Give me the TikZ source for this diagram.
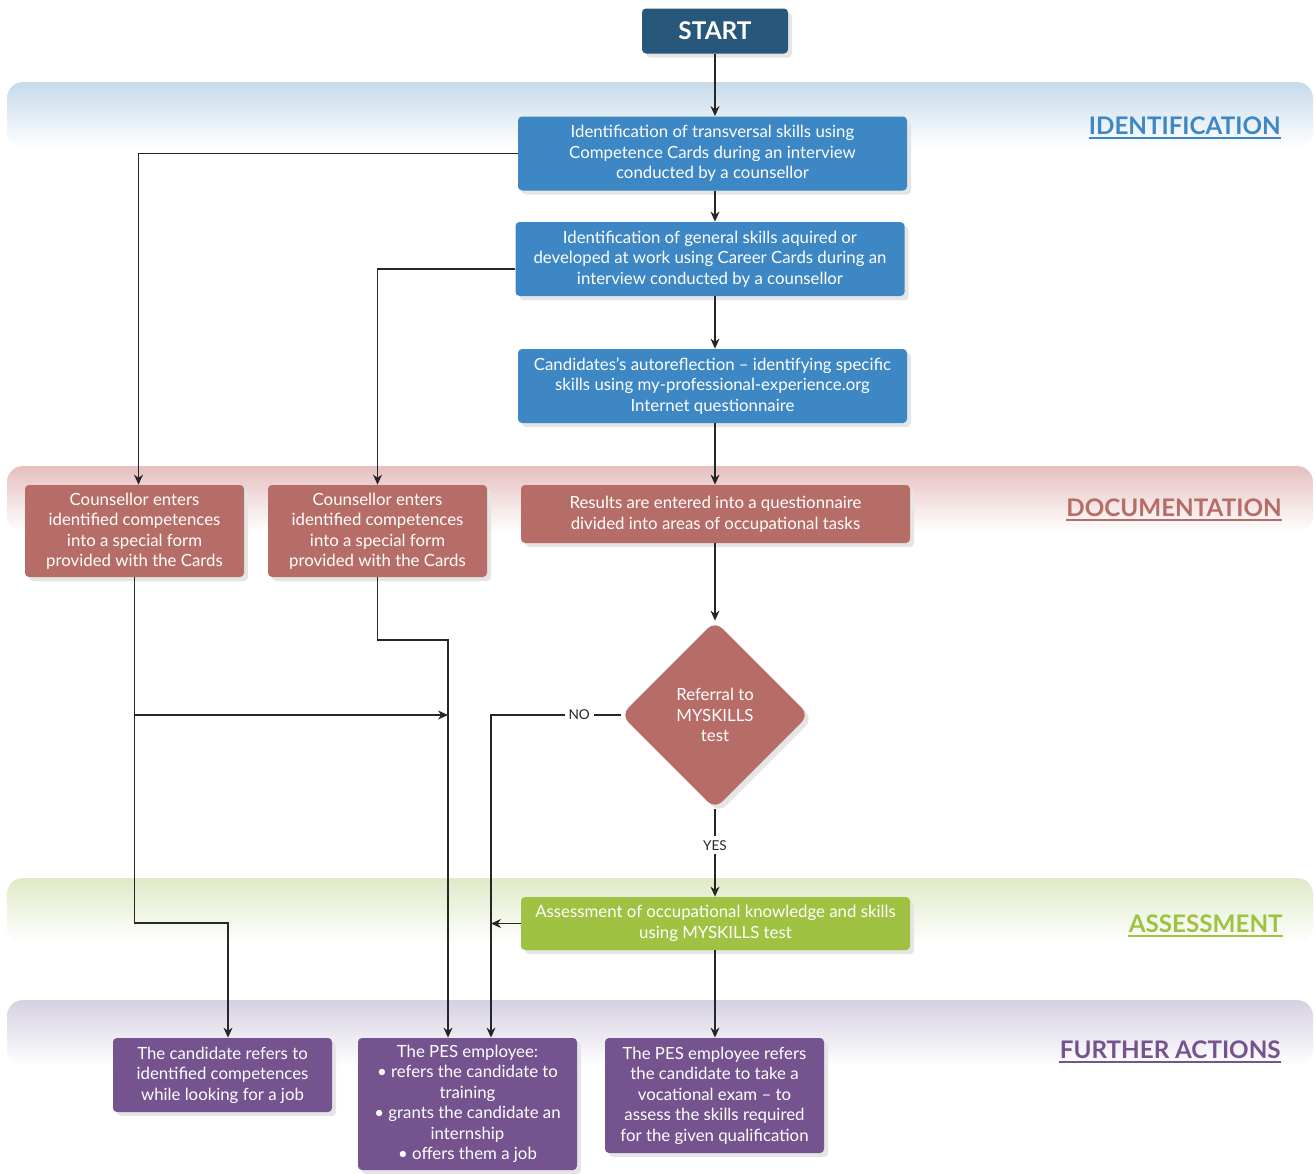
\documentclass[tikz,border=0pt]{standalone}
\usepackage{fontspec}
\setmainfont{Lato}
\usetikzlibrary{shapes.geometric,arrows.meta,shadows}

\definecolor{startblue}{HTML}{27577A}
\definecolor{identblue}{HTML}{3D87C4}
\definecolor{docred}{HTML}{B76D67}
\definecolor{assessgreen}{HTML}{A0C243}
\definecolor{furtherviolet}{HTML}{74538E}
\definecolor{identband}{HTML}{C6DAEB}
\definecolor{docband}{HTML}{E6BFBF}
\definecolor{assessband}{HTML}{DFEAC8}
\definecolor{furtherband}{HTML}{D6D0E2}

\tikzset{
  box/.style={rectangle, rounded corners=2pt, text=white, align=center, inner sep=0pt,
    font=\fontsize{8.4}{10.25}\selectfont,
    drop shadow={shadow xshift=2pt, shadow yshift=-2pt, fill=black!10, opacity=1}},
  widebox/.style={box, minimum width=194.5pt},
  smallbox/.style={box, minimum width=109.5pt},
  identbox/.style={widebox, fill=identblue, minimum height=37pt},
  docbox/.style={fill=docred},
  flow/.style={-{Stealth[length=5pt,width=4.5pt]}, line width=0.65pt, black!85},
  lbl/.style={fill=white, inner sep=2pt, font=\fontsize{6.8}{7}\selectfont, text=black!85},
  section/.style={anchor=base east, inner sep=0pt, font=\bfseries\fontsize{12.1}{13}\selectfont}
}

\begin{document}
\begin{tikzpicture}[x=0.5pt, y=-0.5pt]
\useasboundingbox (0,0) rectangle (1316,1173);

\foreach \col/\y in {identband/82, docband/466, assessband/878, furtherband/1000}
  \shade[top color=\col, bottom color=white, rounded corners=8pt] (7,\y) rectangle (1313,\y+66);

\node[section, text=identblue] (lident) at (1281,134) {IDENTIFICATION};
\node[section, text=docred] (ldoc) at (1282,516) {DOCUMENTATION};
\node[section, text=assessgreen] (lassess) at (1283,932) {ASSESSMENT};
\node[section, text=furtherviolet] (lfurther) at (1281,1058) {FURTHER ACTIONS};
\foreach \lab/\col in {lident/identblue, ldoc/docred, lassess/assessgreen, lfurther/furtherviolet}
  \draw[\col, line width=1pt] ([yshift=-2pt]\lab.base west) -- ([yshift=-2pt]\lab.base east);

\node[box, fill=startblue, minimum width=73pt, minimum height=22.5pt,
  font=\bfseries\fontsize{12.2}{13}\selectfont] (start) at (715,31) {START};

\node[identbox] (id1) at (712.5,153.5) {Identification of transversal skills using\\Competence Cards during an interview\\conducted by a counsellor};
\node[identbox] (id2) at (710,259) {Identification of general skills aquired or\\developed at work using Career Cards during an\\interview conducted by a counsellor};
\node[identbox] (id3) at (712.5,386) {Candidates's autoreflection -- identifying specific\\skills using my-professional-experience.org\\Internet questionnaire};

\node[smallbox, docbox, minimum height=46pt] (doc1) at (134.5,531) {Counsellor enters\\identified competences\\into a special form\\provided with the Cards};
\node[smallbox, docbox, minimum height=46pt] (doc2) at (377.5,531) {Counsellor enters\\identified competences\\into a special form\\provided with the Cards};
\node[widebox, docbox, minimum height=29pt] (doc3) at (715.5,514) {Results are entered into a questionnaire\\divided into areas of occupational tasks};

\node[box, diamond, docbox, aspect=1, minimum width=94pt, minimum height=94pt, rounded corners=5pt] (dia) at (715,715) {Referral to\\MYSKILLS\\test};

\node[widebox, fill=assessgreen, minimum height=26.5pt] (assess) at (715.5,923.5) {Assessment of occupational knowledge and skills\\using MYSKILLS test};

\node[smallbox, fill=furtherviolet, minimum height=37pt] (fa1) at (222.5,1075) {The candidate refers to\\identified competences\\while looking for a job};
\node[smallbox, fill=furtherviolet, minimum height=66pt] (fa2) at (467.5,1104) {The PES employee:\\• refers the candidate to\\training\\• grants the candidate an\\internship\\• offers them a job};
\node[smallbox, fill=furtherviolet, minimum height=57.5pt] (fa3) at (714.5,1095.5) {The PES employee refers\\the candidate to take a\\vocational exam -- to\\assess the skills required\\for the given qualification};

\coordinate (knee1) at (228,923);
\coordinate (bend2) at (448,640);
\coordinate (nobend) at (491,715);

\draw[flow] (start) -- (start |- id1.north);
\draw[flow] (start |- id1.south) -- (start |- id2.north);
\draw[flow] (start |- id2.south) -- (start |- id3.north);
\draw[flow] (start |- id3.south) -- (start |- doc3.north);
\draw[flow] (id1.west) -| ([xshift=2pt]doc1.north);
\draw[flow] ([yshift=-5pt]id2.west) -| (doc2.north);
\draw[flow] (start |- doc3.south) -- (dia.north);
\draw[flow] (dia.south) -- node[lbl, pos=0.41] {YES} (start |- assess.north);
\draw[flow] (dia.west) -- node[lbl, pos=0.32] {NO} (nobend) -- (nobend |- fa2.north);
\draw[flow] (assess.west) -- (nobend |- assess.west);
\draw[flow] (start |- assess.south) -- (start |- fa3.north);
\draw[flow] (doc1.south) |- (knee1) -- (knee1 |- fa1.north);
\draw[flow] (doc1.south |- dia) -- (bend2 |- dia);
\draw[flow] (doc2.south) |- (bend2) -- (bend2 |- fa2.north);
\end{tikzpicture}
\end{document}
